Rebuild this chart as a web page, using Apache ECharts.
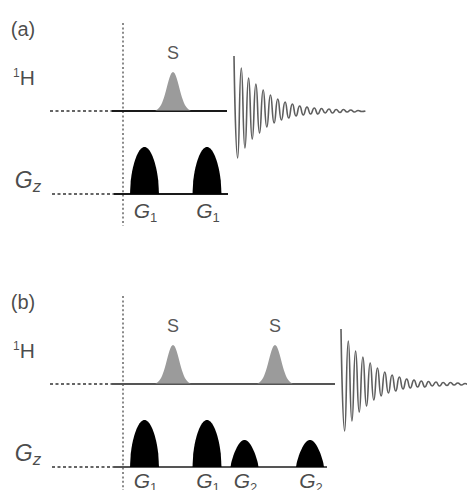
<!DOCTYPE html>
<html><head><meta charset="utf-8">
<script src="https://cdn.jsdelivr.net/npm/echarts@6/dist/echarts.min.js"></script>
<style>html,body{margin:0;padding:0;background:#fff}#c{width:467px;height:490px}</style>
</head><body><div id="c"></div>
<script>
// ---------- data (time axis in diagram units) ----------
const panelNames = ['(a)', '(b)'];
const sPulseTimes = [[173], [173, 275]];           // selective (S) pulses per panel
const g1Times = [[144.5, 207], [144.5, 207]];      // G1 gradient pulses per panel
const g2Times = [[], [244.5, 310]];                // G2 gradient pulses per panel
const hLineEnd = [227, 335];                       // end of 1H channel line
const gLineEnd = [228, 327];                       // end of Gz channel line
const fidStart = [234, 341];                       // start of acquisition
const fidAmplitudes = [55,-47,43,-37,33,-28,27,-22,21,-16,16,-12,12,-9,9,-7,7,-5,5,-4,4,-3,3,-3,2.5,-2,2,-2,1.5,-1.5,1.5,-1,1,-1,0.5,-0.5,0];
const sHeight = 39, g1Height = 47, g2Height = 27;

// ---------- layout ----------
const PANEL_SHIFT = 273;
const H_Y = 111, G_Y = 194, LEAD_X = 50, ZERO_X = 123;
const FID_STEP = 3.65;
const FONT = '"Liberation Sans", Arial, sans-serif';

const series = [];
function line(pts, style) {
  series.push({type: 'line', data: pts, showSymbol: false, symbol: 'none', silent: true,
    lineStyle: style, z: 2, animation: false});
}

panelNames.forEach((name, p) => {
  const off = p * PANEL_SHIFT;
  const hy = H_Y + off, gy = G_Y + off;
  const base = p === 0 ? '#1a1a1a' : '#555';
  // zero-time dotted vertical
  line([[ZERO_X, 23 + off], [ZERO_X, p === 0 ? 226 : 490]], {color: '#8a8a8a', width: 2, type: [2, 2.4]});
  // dashed leads
  line([[LEAD_X, hy], [112, hy]], {color: '#333', width: 1.6, type: [3, 2.5]});
  line([[LEAD_X + 2, gy], [114, gy]], {color: '#333', width: 1.6, type: [3, 2.5]});
  // solid channel lines
  line([[112, hy], [hLineEnd[p], hy]], {color: base, width: 2});
  line([[114, gy], [gLineEnd[p], gy]], {color: base, width: 2});
  // FID
  const fid = fidAmplitudes.map((a, i) => [fidStart[p] + i * FID_STEP, hy - a]);
  series.push({type: 'line', data: fid, showSymbol: false, symbol: 'none', smooth: 0.55,
    lineStyle: {color: '#5e5e5e', width: 1.6}, z: 3, animation: false, silent: true});

  // pulses: [center, baseline, width, height, kind]
  const pulses = [];
  sPulseTimes[p].forEach(t => pulses.push([t, hy, 36, sHeight, 0]));
  g1Times[p].forEach(t => pulses.push([t, gy, 29, g1Height, 1]));
  g2Times[p].forEach(t => pulses.push([t, gy, 28, g2Height, 2]));
  series.push({
    type: 'custom', data: pulses, encode: {x: 0, y: 1}, z: 4, animation: false, silent: true,
    renderItem: (params, api) => {
      const c = api.value(0), b = api.value(1), w = api.value(2), h = api.value(3), k = api.value(4);
      const pts = [];
      const N = 40;
      for (let i = 0; i <= N; i++) {
        const u = i / N;
        const x = c - w / 2 + u * w;
        let v;
        if (k === 0) { const d = x - c; v = h * Math.exp(-d * d / (2 * 6.2 * 6.2)); }
        else { v = h * Math.pow(Math.sin(Math.PI * u), k === 1 ? 0.5 : 0.75); }
        pts.push(api.coord([x, b - v]));
      }
      return {type: 'polygon', shape: {points: pts},
        style: {fill: k === 0 ? '#9b9b9b' : '#000', stroke: null}};
    }
  });

  // pulse labels
  const labY = p === 0 ? 210 : 480;
  const labelData = [];
  sPulseTimes[p].forEach(t => labelData.push({value: [t, 53 + off], label: {formatter: '{s|S}'}}));
  g1Times[p].forEach(t => labelData.push({value: [t + 1, labY], label: {formatter: '{g|G}{n|1}'}}));
  g2Times[p].forEach(t => labelData.push({value: [t + 1, labY], label: {formatter: '{g|G}{n|2}'}}));
  // channel labels
  labelData.push({value: [24, 77 + off], label: {formatter: '{sup|1}{h|H}'}});
  labelData.push({value: [28, 180 + off], label: {formatter: '{g2|G}{z|z}'}});
  labelData.push({value: [23, 29 + off], label: {formatter: '{p|' + name + '}'}});
  series.push({
    type: 'scatter', data: labelData, symbolSize: 0, z: 5, animation: false, silent: true,
    label: {show: true, position: 'inside', color: '#222', fontFamily: FONT,
      rich: {
        s: {fontSize: 18, color: '#2a2a2a', fontFamily: FONT},
        g: {fontSize: 21, fontStyle: 'italic', color: '#1a1a1a', fontFamily: FONT, verticalAlign: 'bottom'},
        g2: {fontSize: 23, fontStyle: 'italic', color: '#1a1a1a', fontFamily: FONT, verticalAlign: 'bottom'},
        n: {fontSize: 13, color: '#1a1a1a', fontFamily: FONT, verticalAlign: 'bottom', padding: [0, 0, -3, 0]},
        z: {fontSize: 17, fontStyle: 'italic', color: '#1a1a1a', fontFamily: FONT, verticalAlign: 'bottom', padding: [0, 0, -3, 0]},
        sup: {fontSize: 12, color: '#1a1a1a', fontFamily: FONT, verticalAlign: 'top'},
        h: {fontSize: 21, color: '#1a1a1a', fontFamily: FONT},
        p: {fontSize: 20, color: '#1a1a1a', fontFamily: FONT}
      }
    }
  });
});

const chart = echarts.init(document.getElementById('c'), null, {renderer: 'svg'});
chart.setOption({
  animation: false,
  backgroundColor: '#fff',
  grid: {left: 0, right: 0, top: 0, bottom: 0},
  xAxis: {type: 'value', min: 0, max: 467, show: false},
  yAxis: {type: 'value', min: 0, max: 490, inverse: true, show: false},
  series
});
</script></body></html>
